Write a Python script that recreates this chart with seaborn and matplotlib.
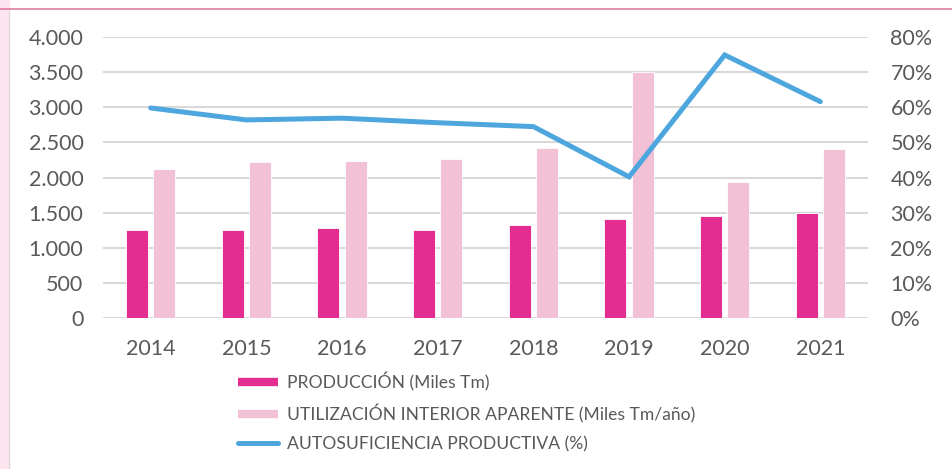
import matplotlib
matplotlib.use("Agg")
import matplotlib.pyplot as plt
from matplotlib.lines import Line2D
from matplotlib.ticker import FuncFormatter, MultipleLocator
import numpy as np
import pandas as pd
import seaborn as sns

# datos
years = ["2014", "2015", "2016", "2017", "2018", "2019", "2020", "2021"]
produccion = [1253, 1253, 1277, 1253, 1320, 1409, 1456, 1490]
utilizacion = [2117, 2216, 2235, 2263, 2416, 3500, 1936, 2401]
autosuficiencia = [59.8, 56.4, 56.9, 55.6, 54.5, 40.2, 74.9, 61.6]

lab_prod = "PRODUCCIÓN (Miles Tm)"
lab_util = "UTILIZACIÓN INTERIOR APARENTE (Miles Tm/año)"
lab_auto = "AUTOSUFICIENCIA PRODUCTIVA (%)"

c_prod = "#e32d91"
c_util = "#f2c1d6"
c_line = "#4da6dd"
c_text = "#595959"
c_grid = "#d9d9d9"

df = pd.DataFrame({
    "year": years * 2,
    "valor": produccion + utilizacion,
    "serie": [lab_prod] * len(years) + [lab_util] * len(years),
})

sns.set_style("white")
plt.rcParams["font.family"] = ["Lato", "DejaVu Sans"]

fig = plt.figure(figsize=(9.53, 4.69), dpi=100)
ax = fig.add_axes([0.108, 0.322, 0.803, 0.599])

sns.barplot(data=df, x="year", y="valor", hue="serie",
            palette=[c_prod, c_util], saturation=1, width=0.574, gap=0.2,
            edgecolor="white", linewidth=0.6, ax=ax, legend=False)

ax.set_ylim(0, 4000)
ax.yaxis.set_major_locator(MultipleLocator(500))
ax.yaxis.set_major_formatter(FuncFormatter(lambda v, p: f"{v:,.0f}".replace(",", ".")))
ax.set_xlim(-0.5, len(years) - 0.5)
ax.grid(axis="y", color=c_grid, linewidth=1.5)
ax.set_axisbelow(True)
ax.set_xlabel("")
ax.set_ylabel("")
for s in ax.spines.values():
    s.set_visible(False)
ax.tick_params(axis="both", length=0, colors=c_text, labelsize=15.5)
ax.tick_params(axis="y", pad=14)
ax.tick_params(axis="x", pad=15)

ax2 = ax.twinx()
pos = np.arange(len(years))
ax2.plot(pos, autosuficiencia, color=c_line, linewidth=3.6,
         solid_capstyle="round", solid_joinstyle="miter")
ax2.set_ylim(0, 80)
ax2.yaxis.set_major_locator(MultipleLocator(10))
ax2.yaxis.set_major_formatter(FuncFormatter(lambda v, p: f"{v:.0f}%"))
for s in ax2.spines.values():
    s.set_visible(False)
ax2.tick_params(axis="y", length=0, colors=c_text, labelsize=15.5, pad=16)
ax2.grid(False)

handles = [
    Line2D([0], [0], color=c_prod, linewidth=6, solid_capstyle="butt"),
    Line2D([0], [0], color=c_util, linewidth=6, solid_capstyle="butt"),
    Line2D([0], [0], color=c_line, linewidth=3.6, solid_capstyle="round"),
]
leg = fig.legend(handles, [lab_prod, lab_util, lab_auto],
                 loc="upper left", bbox_to_anchor=(0.242, 0.222),
                 frameon=False, fontsize=12.6, handlelength=2.3,
                 handletextpad=0.5, labelspacing=0.75, borderaxespad=0)
for t in leg.get_texts():
    t.set_color(c_text)

# marco de la captura
fig.patches.append(plt.Rectangle((0, 0), 9 / 953, 1, transform=fig.transFigure,
                                 color="#fce5ee", zorder=0))
fig.add_artist(Line2D([9.5 / 953, 9.5 / 953], [0, 1 - 11 / 469], color="#d6d6d6",
                      linewidth=0.8, transform=fig.transFigure))
fig.add_artist(Line2D([0, 1], [1 - 9 / 469, 1 - 9 / 469], color="#e07ba3",
                      linewidth=1.2, transform=fig.transFigure))

fig.savefig("out.png", dpi=100)
